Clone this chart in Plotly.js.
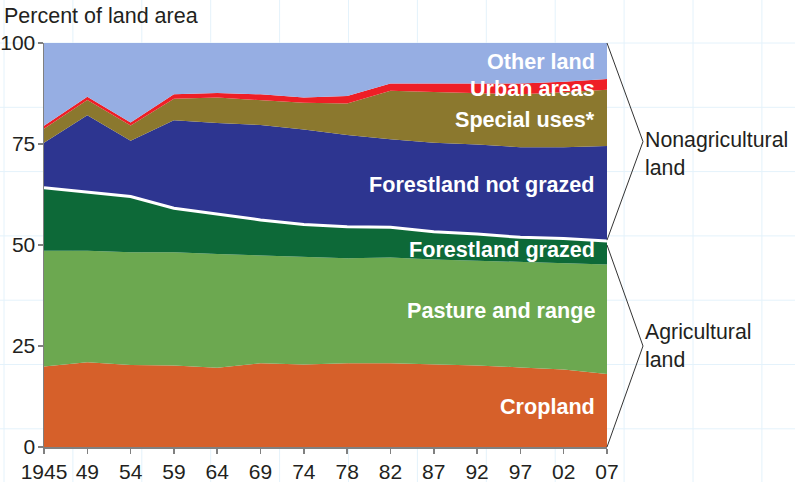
<!DOCTYPE html>
<html><head><meta charset="utf-8">
<script src="https://cdn.plot.ly/plotly-3.0.1.min.js"></script>
<style>html,body{margin:0;padding:0;background:#fff}#chart{width:795px;height:482px}</style>
</head><body><div id="chart"></div>
<script>
// Survey years (category axis, equally spaced as in the original)
const years = ['1945','49','54','59','64','69','74','78','82','87','92','97','02','07'];
// Shares of land area, percent
const cropland      = [19.9, 21.0, 20.3, 20.2, 19.6, 20.7, 20.4, 20.7, 20.7, 20.4, 20.2, 19.7, 19.2, 18.1];
const pasture       = [28.7, 27.6, 27.9, 28.0, 28.2, 26.7, 26.6, 26.0, 26.2, 26.0, 25.9, 26.1, 26.3, 27.1];
const forestGrazed  = [15.6, 14.5, 13.8, 10.9,  9.9,  8.8,  8.1,  7.8,  7.5,  6.9,  6.6,  6.1,  6.1,  5.8];
const forestNot     = [11.1, 19.0, 13.8, 21.8, 22.5, 23.5, 23.5, 22.7, 21.8, 22.0, 22.2, 22.3, 22.6, 23.5];
const specialUses   = [ 3.5,  3.8,  3.8,  5.3,  6.3,  6.2,  6.6,  7.8, 12.0, 12.6, 12.7, 13.1, 13.6, 13.9];
const urban         = [ 0.7,  0.8,  0.7,  1.1,  1.1,  1.4,  1.3,  1.9,  1.8,  2.1,  2.4,  2.7,  2.6,  2.7];
const otherLand     = [20.5, 13.3, 19.7, 12.7, 12.4, 12.7, 13.5, 13.1, 10.0, 10.0, 10.0, 10.0,  9.6,  8.9];
const yTicks = [0, 25, 50, 75, 100];

const series = [
  {name:'Cropland', y:cropland, color:'#D6602A'},
  {name:'Pasture and range', y:pasture, color:'#6CA850'},
  {name:'Forestland grazed', y:forestGrazed, color:'#0D6938', white:true},
  {name:'Forestland not grazed', y:forestNot, color:'#2D3590'},
  {name:'Special uses*', y:specialUses, color:'#8B782E'},
  {name:'Urban areas', y:urban, color:'#EE1F26'},
  {name:'Other land', y:otherLand, color:'#96AEE3'}
];

const traces = series.map(s => ({
  type:'scatter', mode:'lines', x:years, y:s.y, name:s.name,
  stackgroup:'one', fillcolor:s.color,
  line: s.white ? {color:'#ffffff', width:3} : {color:s.color, width:0},
  hoverinfo:'skip'
}));

// agricultural total at the last survey year (top of forestland grazed)
const n = years.length - 1;
const agTotal = cropland[n] + pasture[n] + forestGrazed[n];

const L = 44, R = 607, T = 43, B = 447, W = 795, H = 482;
const px = v => (v - L) / (R - L);
const py = v => (B - v) / (B - T);

const shapes = [];
// faint background graph-paper grid
const gridColor = '#E4F2FB';
for (let gx = 4; gx < W; gx += 68.9) {
  shapes.push({type:'line', xref:'paper', yref:'paper', x0:px(gx), x1:px(gx), y0:py(0), y1:py(H), line:{color:gridColor, width:1}, layer:'below'});
}
for (let gy = 43; gy < H; gy += 64.3) {
  shapes.push({type:'line', xref:'paper', yref:'paper', x0:px(0), x1:px(W), y0:py(gy), y1:py(gy), line:{color:gridColor, width:1}, layer:'below'});
}
// brackets
const apexX = 1 + 36/(R-L);
const nonTop = 100, nonBot = agTotal + 0.2;
const agTop = agTotal - 1.0, agBot = 0;
shapes.push({type:'path', xref:'paper', yref:'y',
  path:`M 1 ${nonTop} L ${apexX} ${(nonTop+nonBot)/2} L 1 ${nonBot}`,
  line:{color:'#333333', width:1}});
shapes.push({type:'path', xref:'paper', yref:'y',
  path:`M 1 ${agTop} L ${apexX} ${(agTop+agBot)/2} L 1 ${agBot}`,
  line:{color:'#333333', width:1}});

const labelFont = {family:'Liberation Sans, Arial, sans-serif', size:21.6, color:'#ffffff'};
const inLabels = [
  ['Other land', 95.4],
  ['Urban areas', 88.8],
  ['Special uses*', 81.0],
  ['Forestland not grazed', 65.1],
  ['Forestland grazed', 48.8],
  ['Pasture and range', 33.9],
  ['Cropland', 10.0]
];
const annotations = inLabels.map(([t, y]) => ({
  text:'<b>'+t+'</b>', xref:'paper', yref:'y', x:1, y:y, xanchor:'right', yanchor:'middle',
  xshift:-10, showarrow:false, font:labelFont
}));
const sideFont = {family:'Liberation Sans, Arial, sans-serif', size:21.3, color:'#231F20'};
annotations.push({text:'Nonagricultural<br>land', xref:'paper', yref:'y', x:apexX, y:72.6,
  xanchor:'left', yanchor:'middle', align:'left', xshift:0, showarrow:false, font:sideFont});
annotations.push({text:'Agricultural<br>land', xref:'paper', yref:'y', x:apexX, y:25.0,
  xanchor:'left', yanchor:'middle', align:'left', xshift:0, showarrow:false, font:sideFont});

const tickFont = {family:'Liberation Sans, Arial, sans-serif', size:21, color:'#231F20'};
const layout = {
  width:W, height:H,
  margin:{l:L, r:W-R, t:T, b:H-B, pad:0},
  paper_bgcolor:'#ffffff', plot_bgcolor:'rgba(0,0,0,0)',
  showlegend:false,
  title:{text:'Percent of land area', xref:'container', yref:'container', x:4/W, xanchor:'left',
    y:1-15/H, yanchor:'middle', font:{family:'Liberation Sans, Arial, sans-serif', size:21.5, color:'#231F20'}},
  xaxis:{type:'category', range:[0, n], showgrid:false, zeroline:false, showline:true,
    linecolor:'#808080', linewidth:1.5, ticks:'outside', ticklen:5, tickcolor:'#808080', tickwidth:1.5,
    tickfont:tickFont, fixedrange:true},
  yaxis:{range:[0,100], tickvals:yTicks, ticktext:yTicks.map(String), showgrid:false, zeroline:false,
    showline:true, linecolor:'#808080', linewidth:1.5, ticks:'outside', ticklen:5, tickcolor:'#808080',
    tickwidth:1.5, tickfont:tickFont, ticklabelstandoff:-2, fixedrange:true},
  shapes:shapes,
  annotations:annotations
};
Plotly.newPlot('chart', traces, layout, {staticPlot:true, displayModeBar:false});
</script>
</body></html>
